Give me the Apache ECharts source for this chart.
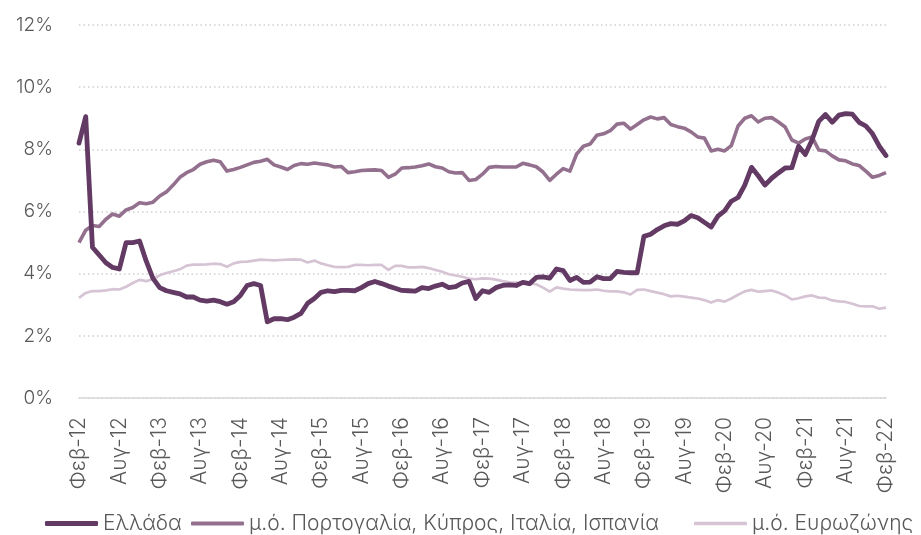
<!DOCTYPE html>
<html>
<head>
<meta charset="utf-8">
<script src="https://cdn.jsdelivr.net/npm/echarts@6/dist/echarts.min.js"></script>
<style>
  html, body { margin: 0; padding: 0; background: #fff; }
  #ChartDIV { width: 921px; height: 535px; }
</style>
</head>
<body>
<div id="ChartDIV"></div>
<script>
// μήνες και έτη (Φεβ-12 έως Φεβ-22)
var monthNames = ['Ιαν', 'Φεβ', 'Μαρ', 'Απρ', 'Μαϊ', 'Ιουν', 'Ιουλ', 'Αυγ', 'Σεπ', 'Οκτ', 'Νοε', 'Δεκ'];
var startYear = 12, startMonth = 1, monthCount = 121;

var seriesNames = ['Ελλάδα', 'μ.ό. Πορτογαλία, Κύπρος, Ιταλία, Ισπανία', 'μ.ό. Ευρωζώνης'];
var seriesColors = ['#633a64', '#94708f', '#d6c3d4'];

var greece = [
    8.2, 9.05, 4.85, 4.6, 4.35, 4.2, 4.15, 5.0, 5.0, 5.05,
    4.4, 3.85, 3.55, 3.45, 3.4, 3.35, 3.25, 3.25, 3.15, 3.12,
    3.15, 3.1, 3.02, 3.1, 3.3, 3.62, 3.68, 3.62, 2.45, 2.55,
    2.55, 2.52, 2.6, 2.72, 3.05, 3.2, 3.4, 3.45, 3.42, 3.46,
    3.46, 3.45, 3.55, 3.68, 3.75, 3.68, 3.6, 3.53, 3.46, 3.45,
    3.44, 3.55, 3.52, 3.6, 3.66, 3.55, 3.58, 3.7, 3.75, 3.2,
    3.45, 3.4, 3.55, 3.62, 3.64, 3.62, 3.72, 3.68, 3.88, 3.9,
    3.86, 4.15, 4.1, 3.78, 3.88, 3.72, 3.73, 3.9, 3.84, 3.84,
    4.07, 4.04, 4.03, 4.03, 5.2, 5.27, 5.42, 5.54, 5.61, 5.59,
    5.7, 5.87, 5.8, 5.65, 5.5, 5.85, 6.02, 6.33, 6.45, 6.85,
    7.42, 7.15, 6.85, 7.07, 7.24, 7.4, 7.41, 8.1, 7.83, 8.3,
    8.9, 9.12, 8.87, 9.1, 9.15, 9.13, 8.87, 8.75, 8.5, 8.1,
    7.8
];

var periphery = [
    5.0, 5.4, 5.55, 5.52, 5.75, 5.92, 5.85, 6.05, 6.13, 6.28,
    6.25, 6.3, 6.5, 6.63, 6.85, 7.1, 7.25, 7.35, 7.52, 7.6,
    7.65, 7.6, 7.3, 7.35, 7.42, 7.5, 7.58, 7.62, 7.68, 7.5,
    7.43, 7.35, 7.48, 7.54, 7.52, 7.56, 7.53, 7.5, 7.43, 7.45,
    7.25, 7.28, 7.32, 7.33, 7.34, 7.32, 7.1, 7.2, 7.4, 7.41,
    7.43, 7.47, 7.53, 7.44, 7.4, 7.28, 7.24, 7.25, 7.0, 7.03,
    7.2, 7.42, 7.45, 7.43, 7.43, 7.43, 7.55, 7.5, 7.44, 7.27,
    7.0, 7.2, 7.38, 7.3, 7.85, 8.1, 8.17, 8.45, 8.5, 8.6,
    8.81, 8.84, 8.65, 8.8, 8.95, 9.04, 8.98, 9.02, 8.8, 8.73,
    8.68, 8.56, 8.4, 8.36, 7.95, 8.0, 7.95, 8.12, 8.75, 9.0,
    9.08, 8.88, 9.0, 9.02, 8.88, 8.72, 8.3, 8.2, 8.33, 8.4,
    7.98, 7.95, 7.79, 7.66, 7.63, 7.53, 7.48, 7.3, 7.1, 7.16,
    7.25
];

var eurozone = [
    3.22, 3.38, 3.44, 3.44, 3.46, 3.5, 3.49, 3.58, 3.7, 3.8,
    3.76, 3.82, 3.95, 4.02, 4.08, 4.14, 4.26, 4.29, 4.29, 4.3,
    4.32, 4.31, 4.22, 4.33, 4.38, 4.39, 4.42, 4.45, 4.44, 4.43,
    4.44, 4.45, 4.46, 4.45, 4.36, 4.42, 4.33, 4.27, 4.22, 4.21,
    4.22, 4.28, 4.28, 4.27, 4.28, 4.28, 4.12, 4.25, 4.25, 4.2,
    4.2, 4.22, 4.18, 4.12, 4.06, 3.98, 3.94, 3.9, 3.84, 3.82,
    3.85, 3.84, 3.81, 3.76, 3.72, 3.71, 3.69, 3.68, 3.66, 3.55,
    3.42, 3.56, 3.52, 3.49, 3.48, 3.47, 3.47, 3.49, 3.45, 3.43,
    3.43, 3.4, 3.33, 3.48, 3.49, 3.44, 3.39, 3.34, 3.27, 3.29,
    3.26, 3.23, 3.2, 3.15, 3.07, 3.15, 3.1, 3.2, 3.32, 3.43,
    3.48, 3.42, 3.44, 3.46, 3.39, 3.3, 3.17, 3.21, 3.27, 3.3,
    3.23, 3.22, 3.14, 3.11, 3.09, 3.03, 2.96, 2.95, 2.95, 2.87,
    2.91
];

var categories = [];
for (var i = 0; i < monthCount; i++) {
    var m = (startMonth + i) % 12;
    var y = startYear + Math.floor((startMonth + i) / 12);
    categories.push(monthNames[m] + '-' + y);
}

var myChart = echarts.init(document.getElementById('ChartDIV'));
var fontFamily = 'Inter, "Open Sans", sans-serif';
var textColor = '#595959';

// ένα υπόμνημα ανά σειρά, για σταθερή θέση
function legendItem(name, left, thick) {
    return {
        left: left,
        top: 508,
        icon: 'roundRect',
        itemWidth: 53,
        itemHeight: thick,
        textStyle: { fontSize: 21, fontWeight: 300, color: textColor, fontFamily: fontFamily },
        data: [name]
    };
}

var option = {
    animation: false,
    textStyle: { fontFamily: fontFamily },
    grid: { left: 79, right: 35, top: 25, bottom: 137 },
    legend: [
        legendItem(seriesNames[0], 40, 5),
        legendItem(seriesNames[1], 186, 4),
        legendItem(seriesNames[2], 689, 3.5)
    ],
    xAxis: {
        type: 'category',
        boundaryGap: false,
        data: categories,
        axisLine: { lineStyle: { color: '#d9d9d9', width: 1.5 } },
        axisTick: { show: false },
        axisLabel: {
            interval: 5,
            rotate: 90,
            margin: 19,
            fontSize: 21,
            fontWeight: 300,
            color: textColor
        }
    },
    yAxis: {
        type: 'value',
        min: 0,
        max: 12,
        interval: 2,
        axisLine: { show: false },
        axisTick: { show: false },
        axisLabel: {
            formatter: '{value}%',
            margin: 26,
            fontSize: 19,
            fontWeight: 300,
            color: textColor
        },
        splitLine: { lineStyle: { color: '#cfcfcf', width: 1.5, type: [1.5, 3] } }
    },
    series: [
        {
            name: seriesNames[2],
            type: 'line',
            data: eurozone,
            symbol: 'none',
            z: 1,
            lineStyle: { color: seriesColors[2], width: 2.7, join: 'round' },
            itemStyle: { color: seriesColors[2] }
        },
        {
            name: seriesNames[1],
            type: 'line',
            data: periphery,
            symbol: 'none',
            z: 2,
            lineStyle: { color: seriesColors[1], width: 3.6, join: 'round' },
            itemStyle: { color: seriesColors[1] }
        },
        {
            name: seriesNames[0],
            type: 'line',
            data: greece,
            symbol: 'none',
            z: 3,
            lineStyle: { color: seriesColors[0], width: 4.8, join: 'round', cap: 'round' },
            itemStyle: { color: seriesColors[0] }
        }
    ]
};

myChart.setOption(option);

//-- resize
window.addEventListener('resize', function () {
    myChart.resize();
});
</script>
</body>
</html>
